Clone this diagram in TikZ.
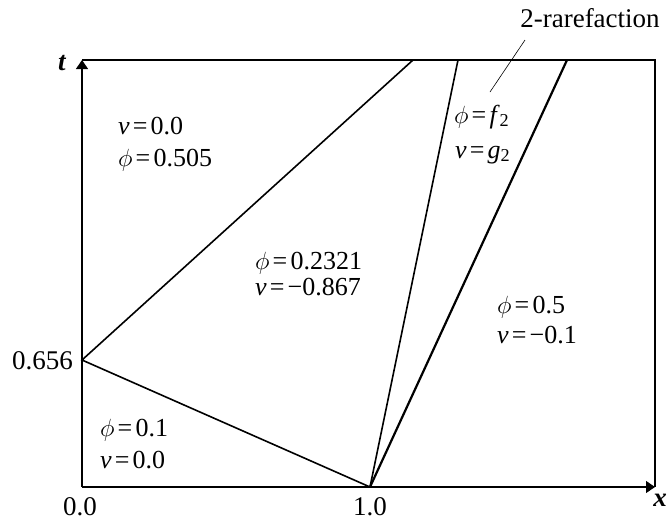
\documentclass[tikz,border=0pt]{standalone}
\usepackage{fontspec}
\setmainfont{Liberation Serif}
\usetikzlibrary{arrows.meta}
\tikzset{
  wave/.style={line width=1.6pt},
  rare/.style={line width=2.2pt},
  frame/.style={line width=1.1pt},
  lbl/.style={anchor=base west,inner sep=0pt,font=\fontsize{26}{28}\selectfont},
  tick/.style={inner sep=0pt,font=\fontsize{27}{30}\selectfont}
}
\newcommand{\vv}{\textit{v}}
\newcommand{\eqs}{\kern0.12em=\kern0.12em}
\begin{document}
\begin{tikzpicture}[x=1pt,y=-1pt]
    \useasboundingbox (0,0) rectangle (667,523);
    % axes and frame
    \coordinate (O) at (82,487);
    \coordinate (T) at (82,60);
    \coordinate (X) at (655,487);
    \coordinate (TR) at (655,60);
    \draw[frame] (T) -- (TR) -- (X);
    \draw[frame,-{Triangle[length=9pt,width=12pt]}] (O) -- (T);
    \draw[frame,-{Triangle[length=9pt,width=12pt]}] (O) -- (X);
    \node[tick,font=\fontsize{27}{30}\selectfont\bfseries\itshape] (tlab) at (62,63) {t};
    \node[tick,anchor=base east,font=\fontsize{27}{30}\selectfont\bfseries\itshape] (xlab) at (667,506) {x};
    % waves
    \coordinate (A) at (82,360);
    \coordinate (B) at (370,487);
    \coordinate (E1) at (413,60);
    \coordinate (E2) at (458,60);
    \coordinate (E3) at (567,60);
    \draw[wave] (E1) -- (A) -- (B);
    \draw[wave] (B) -- (E2);
    \draw[rare] (B) -- (E3);
    % leader
    \node[tick,anchor=base] (rlab) at (590,27) {2-rarefaction};
    \coordinate (L1) at (490,92);
    \draw[line width=0.6pt] (L1) -- (525,40);
    % ticks
    \node[tick,anchor=base east] (t0) at (73,369) {0.656};
    \node[tick,anchor=base] (x0) at (80,515) {0.0};
    \node[tick,anchor=base] (x1) at (370,515) {1.0};
    % states
    \node[lbl] (s1a) at (118,134) {\vv\eqs0.0};
    \node[lbl] (s1b) at (118,166) {$\phi$\eqs0.505};
    \node[lbl] (s2a) at (255,269) {$\phi$\eqs0.2321};
    \node[lbl] (s2b) at (255,295) {\vv\eqs−0.867};
    \node[lbl] (s3a) at (454,123) {$\phi$\eqs\textit{f}\textsubscript{2}};
    \node[lbl] (s3b) at (455,158) {\vv\eqs\textit{g}\textsubscript{2}};
    \node[lbl] (s4a) at (497,313) {$\phi$\eqs0.5};
    \node[lbl] (s4b) at (497,343) {\vv\eqs−0.1};
    \node[lbl] (s5a) at (100,436) {$\phi$\eqs0.1};
    \node[lbl] (s5b) at (100,468) {\vv\eqs0.0};
\end{tikzpicture}
\end{document}
